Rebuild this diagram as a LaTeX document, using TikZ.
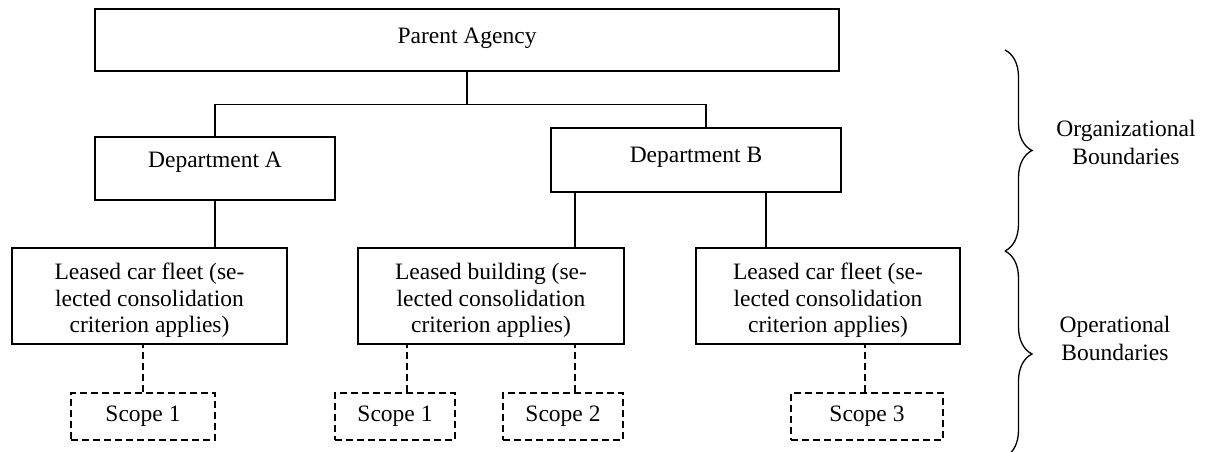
\documentclass[tikz,border=0pt]{standalone}
\usepackage{fontspec}
\setmainfont{Liberation Serif}
\usetikzlibrary{decorations.pathreplacing}
\begin{document}
\begin{tikzpicture}[x=1pt,y=-1pt, line join=miter, line cap=butt,
	font=\fontsize{23.5pt}{26.5pt}\selectfont,
	box/.style={draw, line width=1.3pt, inner sep=2pt, align=center},
	leasebox/.style={box, minimum width=#1, minimum height=96pt, text height=78pt},
	scopebox/.style={box, dash pattern=on 7pt off 4pt, minimum width=#1, minimum height=47pt},
	conn/.style={line width=1.3pt},
	dconn/.style={line width=1.3pt, dash pattern=on 7pt off 4pt},
	side/.style={align=center, font=\fontsize{23.5pt}{28pt}\selectfont}]
	\useasboundingbox (0,0) rectangle (1212,451);
	% boxes
	\node[box, minimum width=744pt, minimum height=62pt, text depth=8pt] (pa) at (467,40) {Parent Agency};
	\node[box, minimum width=240pt, minimum height=63pt, text depth=18pt] (depA) at (215,168.5) {Department A};
	\node[box, minimum width=290pt, minimum height=64pt, text depth=9.5pt] (depB) at (696,160) {Department B};
	\node[leasebox=275pt] (fleetA) at (149.5,296) {Leased car fleet (se-\\lected consolidation\\criterion applies)};
	\node[leasebox=266pt] (bldg) at (491,296) {Leased building (se-\\lected consolidation\\criterion applies)};
	\node[leasebox=264pt] (fleetB) at (828,296) {Leased car fleet (se-\\lected consolidation\\criterion applies)};
	\node[scopebox=144pt] (sA) at (143,416.5) {Scope 1};
	\node[scopebox=120pt] (sB) at (395,416.5) {Scope 1};
	\node[scopebox=120pt] (sC) at (563,416.5) {Scope 2};
	\node[scopebox=152pt] (sD) at (867,416.5) {Scope 3};
	% solid links
	\path (pa.south) ++(0,33) coordinate (fork);
	\draw[conn] (pa.south) -- (fork);
	\draw[conn] (depA.north) |- (fork) -| ([xshift=10pt]depB.north);
	\draw[conn] (depA.south) -- (depA.south |- fleetA.north);
	\draw[conn] ([xshift=-121pt]depB.south) -- ([xshift=-121pt]depB.south |- bldg.north);
	\draw[conn] ([xshift=70pt]depB.south) -- ([xshift=70pt]depB.south |- fleetB.north);
	% dashed links
	\foreach \s/\up/\dx in {sA/fleetA/0, sB/bldg/12, sC/bldg/12, sD/fleetB/-2}{
		\draw[dconn] ([xshift=\dx pt]\s.north) -- ([xshift=\dx pt]\s.north |- \up.south);}
	% braces
	\coordinate (orgtop) at (1005,50);
	\coordinate (orgbot) at (1005,251);
	\coordinate (opbot) at (1005,457);
	\draw[conn, decorate, decoration={brace, amplitude=27pt}] (orgtop) -- (orgbot);
	\draw[conn, decorate, decoration={brace, amplitude=27pt}] (orgbot) -- (opbot);
	\node[side] (orgtxt) at (1126,142) {Organizational\\Boundaries};
	\node[side] (optxt) at (1115,338) {Operational\\Boundaries};
\end{tikzpicture}
\end{document}
